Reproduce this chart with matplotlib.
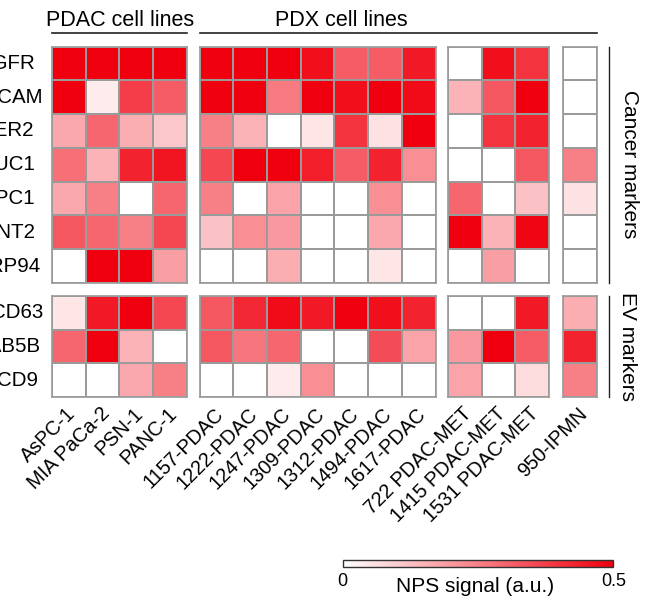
import numpy as np
import matplotlib.pyplot as plt
from matplotlib.colors import LinearSegmentedColormap
from matplotlib.lines import Line2D
from matplotlib.transforms import ScaledTranslation

plt.rcParams['font.family'] = ['Liberation Sans', 'DejaVu Sans']

# markers (rows)
cancer_markers = ["EGFR", "EPCAM", "HER2", "MUC1", "GPC1", "WNT2", "GRP94"]
ev_markers = ["CD63", "RAB5B", "CD9"]

# samples (columns)
pdac_lines = ["AsPC-1", "MIA PaCa-2", "PSN-1", "PANC-1"]
pdx_lines = ["1157-PDAC", "1222-PDAC", "1247-PDAC", "1309-PDAC",
             "1312-PDAC", "1494-PDAC", "1617-PDAC"]
met_lines = ["722 PDAC-MET", "1415 PDAC-MET", "1531 PDAC-MET"]
ipmn_lines = ["950-IPMN"]

# NPS signal (a.u.), rows = cancer markers then EV markers
pdac_vals = [
    [0.50, 0.50, 0.50, 0.50],
    [0.50, 0.04, 0.38, 0.32],
    [0.17, 0.30, 0.16, 0.11],
    [0.28, 0.15, 0.43, 0.46],
    [0.17, 0.25, 0.00, 0.30],
    [0.33, 0.30, 0.25, 0.36],
    [0.00, 0.50, 0.50, 0.19],
    [0.05, 0.45, 0.50, 0.36],
    [0.30, 0.50, 0.15, 0.00],
    [0.00, 0.00, 0.17, 0.25],
]
pdx_vals = [
    [0.50, 0.50, 0.50, 0.47, 0.32, 0.32, 0.45],
    [0.50, 0.50, 0.26, 0.50, 0.47, 0.50, 0.48],
    [0.25, 0.15, 0.00, 0.05, 0.40, 0.06, 0.50],
    [0.36, 0.50, 0.50, 0.44, 0.32, 0.43, 0.22],
    [0.25, 0.00, 0.18, 0.00, 0.00, 0.22, 0.00],
    [0.12, 0.22, 0.20, 0.00, 0.00, 0.17, 0.00],
    [0.00, 0.00, 0.16, 0.00, 0.00, 0.05, 0.00],
    [0.33, 0.42, 0.48, 0.45, 0.50, 0.47, 0.43],
    [0.33, 0.27, 0.30, 0.00, 0.00, 0.35, 0.18],
    [0.00, 0.00, 0.04, 0.22, 0.00, 0.00, 0.00],
]
met_vals = [
    [0.00, 0.47, 0.40],
    [0.15, 0.33, 0.50],
    [0.00, 0.40, 0.43],
    [0.00, 0.00, 0.33],
    [0.30, 0.00, 0.12],
    [0.50, 0.15, 0.49],
    [0.00, 0.19, 0.00],
    [0.00, 0.00, 0.45],
    [0.20, 0.50, 0.32],
    [0.18, 0.00, 0.07],
]
ipmn_vals = [
    [0.00], [0.00], [0.00], [0.25], [0.06], [0.00], [0.00],
    [0.16], [0.43], [0.25],
]

W, H = 645, 601
fig = plt.figure(figsize=(W / 100, H / 100), dpi=100)


def px_axes(x0, y0, x1, y1):
    return fig.add_axes([x0 / W, 1 - y1 / H, (x1 - x0) / W, (y1 - y0) / H])


def px_line(x0, y0, x1, y1, lw=1.2, color='#222222'):
    fig.add_artist(Line2D([x0 / W, x1 / W], [1 - y0 / H, 1 - y1 / H],
                          transform=fig.transFigure, lw=lw, color=color))


cmap = LinearSegmentedColormap.from_list('nps', ['#ffffff', '#f0000e'])
edge = '#9a9a9a'

col_groups = [(pdac_lines, pdac_vals, 52, 186.8),
              (pdx_lines, pdx_vals, 199.5, 435.5),
              (met_lines, met_vals, 448, 549),
              (ipmn_lines, ipmn_vals, 563, 597)]
# row labels are centred at these x positions (pixels) in the original layout
row_groups = [(cancer_markers, slice(0, 7), 46.5, 283, [6.5] * 7),
              (ev_markers, slice(7, 10), 296, 397, [16.8, 7.4, 17.5])]

mesh = None
for gi, (cols, vals, x0, x1) in enumerate(col_groups):
    arr = np.array(vals)
    for ri, (rows, sl, y0, y1, lab_x) in enumerate(row_groups):
        ax = px_axes(x0, y0, x1, y1)
        sub = arr[sl]
        mesh = ax.pcolormesh(sub, cmap=cmap, vmin=0, vmax=0.5,
                             edgecolors=edge, linewidth=1.2)
        ax.set_xlim(0, sub.shape[1])
        ax.set_ylim(sub.shape[0], 0)
        for sp in ax.spines.values():
            sp.set_color(edge)
            sp.set_linewidth(1.2)
        ax.tick_params(length=0)
        ax.set_xticks([])
        ax.set_yticks([])
        if gi == 0:
            for i, name in enumerate(rows):
                ax.text((lab_x[i] - x0) / (x1 - x0), i + 0.5, name,
                        transform=ax.get_yaxis_transform(), fontsize=14.8,
                        ha='center', va='center', clip_on=False)
        if ri == 1:
            ax.set_xticks(np.arange(len(cols)) + 0.5)
            ax.set_xticklabels(cols, fontsize=14.3, rotation=45, ha='right',
                               va='center', rotation_mode='anchor')
            ax.tick_params(axis='x', pad=10)
            for lbl in ax.get_xticklabels():
                lbl.set_transform(lbl.get_transform() +
                                  ScaledTranslation(0.04, 0, fig.dpi_scale_trans))

# group headers
fig.text(120 / W, 1 - 20 / H, "PDAC cell lines", fontsize=15.5,
         ha='center', va='center')
px_line(52, 33.3, 186.8, 33.3)
fig.text(341 / W, 1 - 20 / H, "PDX cell lines", fontsize=15.5,
         ha='center', va='center')
px_line(199.5, 33.3, 597, 33.3)

# marker groups on the right
px_line(608.5, 46.5, 608.5, 283, lw=1.0)
fig.text(629 / W, 1 - 164.5 / H, "Cancer markers", fontsize=15,
         ha='center', va='center', rotation=270)
px_line(608.5, 296, 608.5, 397, lw=1.0)
fig.text(627 / W, 1 - 346.5 / H, "EV markers", fontsize=15,
         ha='center', va='center', rotation=270)

# colour bar
cax = px_axes(342.7, 560, 613.3, 567.3)
cb = fig.colorbar(mesh, cax=cax, orientation='horizontal', ticks=[0, 0.5])
cb.ax.set_xticklabels(['0', '0.5'])
cb.ax.tick_params(length=0, labelsize=13, pad=4)
cb.outline.set_linewidth(1.0)
cb.outline.set_edgecolor('#333333')
fig.text(475 / W, 1 - 587 / H, "NPS signal (a.u.)", fontsize=15,
         ha='center', va='center')

fig.savefig('out.png', dpi=100)
